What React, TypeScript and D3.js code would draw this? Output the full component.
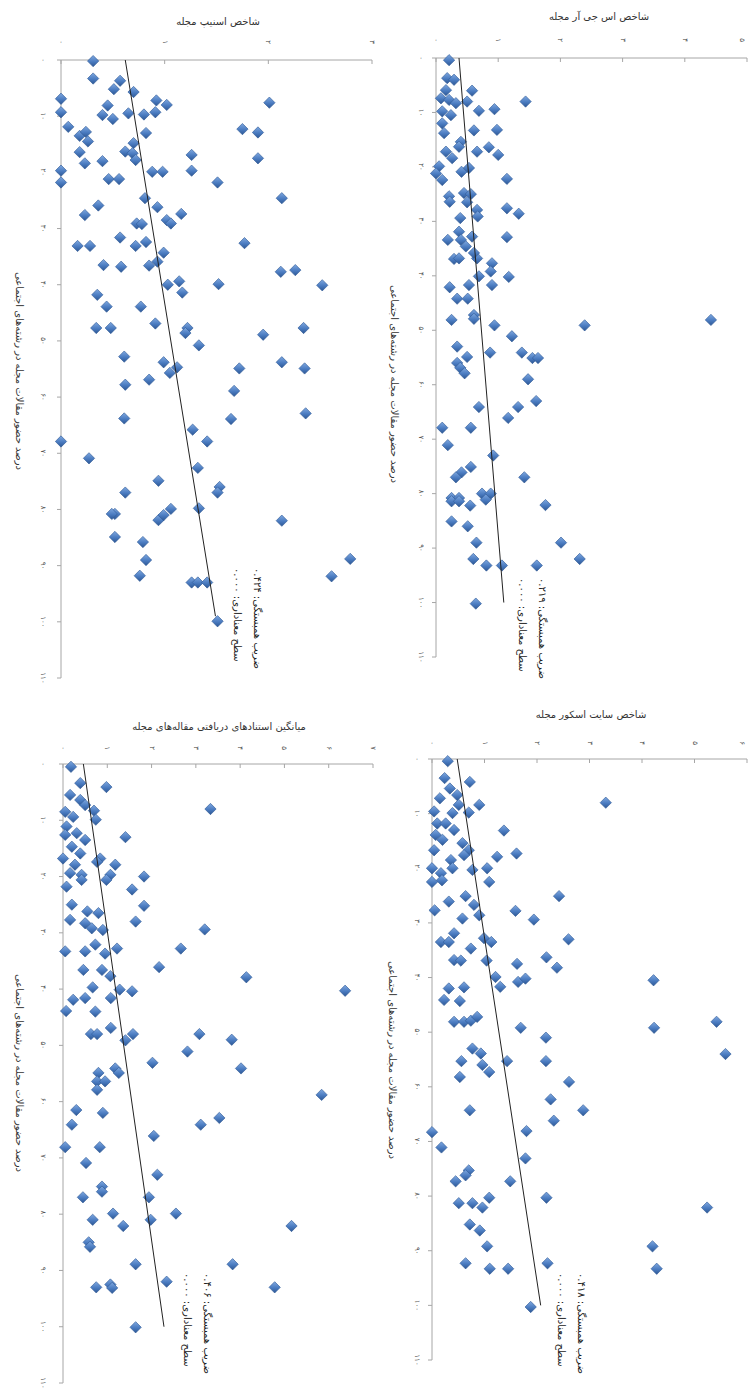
import React from 'react';
import * as d3 from 'd3';

type Pt = [number, number];

// [percent of journal papers in social fields, index value]
const snipPoints: Pt[] = [
  [0.2, 0.31], [3.3, 0.31], [3.7, 0.57], [5.2, 0.51], [5.7, 0.7], [6.9, 0], [8.1, 0.45], [7.2, 0.92],
  [8.0, 1.02], [7.6, 2.01], [9.3, 0], [9.8, 0.4], [10.5, 0.5], [9.5, 0.65], [9.7, 0.8], [9.3, 0.91],
  [11.9, 0.07], [12.3, 1.75], [12.9, 1.9], [13.5, 0.18], [12.8, 0.24], [14.5, 0.26], [13.0, 0.82],
  [14.8, 0.7], [16.4, 0.18], [16.3, 0.62], [16.6, 0.69], [17.8, 0.72], [16.9, 1.26], [17.5, 1.9],
  [18.4, 0.23], [18.0, 0.4], [19.7, 0], [21.8, 0], [19.9, 0.88], [19.9, 0.98], [19.7, 1.26],
  [21.2, 0.46], [21.2, 0.56], [21.8, 1.51], [24.6, 0.81], [24.6, 2.13], [27.6, 0.23], [25.9, 0.36],
  [26.2, 0.93], [27.4, 1.16], [29.1, 0.73], [29.2, 0.78], [28.5, 1.02], [29.1, 1.06], [33.1, 0.16],
  [33.1, 0.28], [31.6, 0.57], [33.1, 0.72], [32.4, 0.82], [34.3, 0.99], [32.6, 1.77], [36.5, 0.41],
  [36.8, 0.58], [36.6, 0.85], [35.9, 0.93], [37.7, 2.12], [37.4, 2.26], [40.0, 1.03], [39.4, 1.14],
  [41.4, 1.17], [39.9, 1.52], [40.1, 2.52], [41.8, 0.35], [43.9, 0.44], [43.9, 0.77], [47.7, 0.34],
  [47.7, 0.48], [46.9, 0.91], [47.7, 1.22], [48.6, 1.2], [50.8, 1.33], [48.9, 1.95], [47.7, 2.34],
  [52.8, 0.61], [53.8, 0.99], [54.7, 1.12], [55.7, 1.05], [54.9, 1.72], [53.8, 2.13], [54.9, 2.35],
  [56.9, 0.85], [57.8, 0.62], [58.9, 1.67], [63.8, 0.61], [63.9, 1.64], [62.9, 2.36], [67.9, 0],
  [65.8, 1.27], [67.9, 1.41], [70.9, 0.27], [72.6, 1.32], [74.9, 0.94], [77.0, 0.62], [76.0, 1.53],
  [77.0, 1.51], [80.8, 0.52], [80.8, 0.49], [81.9, 0.94], [81.0, 0.99], [79.9, 1.06], [79.8, 1.33],
  [82.0, 2.13], [84.9, 0.52], [85.8, 0.79], [89.0, 0.82], [91.8, 0.76], [93.0, 1.26], [93.0, 1.32],
  [93.0, 1.41], [99.9, 1.51], [88.8, 2.79], [91.9, 2.61],
];

const sjrPoints: Pt[] = [
  [0.4, 0.21], [3.7, 0.18], [4.0, 0.29], [5.9, 0.16], [6.0, 0.58], [8.0, 1.44], [7.4, 0.08], [7.7, 0.21],
  [8.3, 0.32], [8.0, 0.5], [9.7, 0.69], [9.4, 0.94], [9.8, 0.1], [10.5, 0.24], [12.0, 0.1], [13.3, 0.61],
  [13.2, 0.98], [13.8, 0.13], [15.4, 0.4], [16.3, 0.37], [17.2, 0.66], [16.4, 0.85], [17.8, 1.0],
  [17.2, 0.16], [18.4, 0.26], [19.9, 0.05], [21.2, 0], [22.4, 0.1], [20.9, 0.41], [20.2, 0.53],
  [22.2, 1.14], [25.4, 0.21], [24.8, 0.45], [25.0, 0.56], [26.4, 0.22], [26.5, 0.5], [27.6, 1.14],
  [28.6, 1.33], [29.4, 0.39], [27.9, 0.66], [29.1, 0.67], [33.4, 0.19], [31.9, 0.37], [33.4, 0.4],
  [32.8, 0.58], [32.9, 1.14], [34.6, 0.48], [36.9, 0.29], [36.8, 0.37], [36.8, 0.66], [35.8, 0.61],
  [37.7, 0.9], [39.2, 0.88], [41.7, 0.9], [40.2, 1.17], [40.1, 0.69], [41.7, 0.53], [42.1, 0.22],
  [44.2, 0.34], [44.2, 0.51], [47.2, 0.61], [47.9, 0.61], [48.1, 0.25], [49.1, 0.94], [49.1, 2.39],
  [48.1, 4.42], [51.1, 1.22], [53.0, 0.34], [54.9, 0.5], [54.1, 0.87], [54.1, 1.38], [55.1, 1.55],
  [55.1, 1.64], [56.0, 0.34], [56.9, 0.39], [57.9, 0.46], [59.0, 1.48], [63.0, 1.61], [64.1, 1.32],
  [64.1, 0.69], [66.1, 1.16], [67.9, 0.1], [67.9, 0.56], [71.1, 0.19], [73.0, 0.92], [75.1, 0.56],
  [76.1, 0.41], [77.0, 0.32], [77.0, 1.42], [80.8, 0.25], [80.8, 0.37], [80.0, 0.74], [80.0, 0.88],
  [81.4, 0.25], [81.4, 0.37], [82.2, 0.55], [81.1, 0.8], [82.1, 1.76], [85.1, 0.25], [86.0, 0.51],
  [89.0, 0.65], [89.0, 2.01], [92.0, 0.6], [93.2, 0.81], [93.2, 1.06], [93.2, 1.62], [92.0, 2.31],
  [100.2, 0.64],
];

const citesPoints: Pt[] = [
  [0.5, 0.18], [3.4, 0.39], [4.1, 0.98], [5.5, 0.16], [6.4, 0.39], [7.3, 0.5], [8.3, 0.7], [8.0, 3.33],
  [8.5, 0.05], [9.4, 0.23], [9.9, 0.74], [11.1, 0.08], [12.3, 0.31], [13.5, 0.5], [13.0, 1.41],
  [12.6, 0.05], [14.7, 0.2], [16.8, 0], [15.9, 0.39], [16.8, 0.84], [17.4, 0.77], [17.9, 1.18],
  [17.9, 0.27], [19.7, 1.07], [20.0, 1.83], [19.4, 0.16], [19.7, 0.42], [21.8, 0.08], [20.6, 0.42],
  [20.6, 0.98], [22.3, 1.56], [25.0, 0.2], [26.2, 0.55], [26.5, 0.8], [25.2, 1.83], [27.7, 0.16],
  [28.3, 0.5], [29.2, 0.65], [29.5, 0.9], [28.0, 1.64], [29.4, 3.2], [33.3, 0.05], [33.3, 0.5],
  [32.1, 0.73], [33.7, 0.95], [32.8, 1.22], [32.8, 2.66], [36.6, 0.46], [36.6, 0.88], [37.7, 1.07],
  [36.1, 2.17], [37.9, 4.14], [39.7, 0.67], [40.1, 1.28], [40.4, 1.56], [40.3, 6.37], [41.9, 0.23],
  [41.6, 0.5], [41.6, 1.08], [43.9, 0.07], [44.0, 0.73], [48.0, 0.63], [48.0, 0.77], [46.9, 1.08],
  [49.1, 1.41], [48.0, 1.58], [48.0, 3.08], [49.0, 3.81], [51.1, 2.81], [53.1, 2.02], [54.1, 4.02],
  [54.9, 0.8], [54.1, 1.18], [54.9, 1.26], [56.4, 0.77], [56.4, 0.95], [57.9, 0.77], [58.8, 5.84],
  [61.5, 0.3], [62.0, 0.9], [64.1, 0.2], [64.1, 3.11], [62.9, 3.53], [66.1, 2.05], [68.1, 0.05],
  [68.1, 0.83], [70.9, 0.52], [73.0, 2.13], [75.1, 0.88], [76.0, 0.88], [77.0, 0.45], [77.0, 1.94],
  [79.9, 1.13], [81.0, 0.67], [82.1, 1.36], [81.0, 1.98], [79.9, 2.55], [82.1, 5.16], [85.0, 0.58],
  [85.8, 0.61], [88.9, 1.64], [88.9, 3.83], [93.0, 0.75], [92.5, 1.07], [93.1, 1.11], [92.0, 2.34],
  [93.0, 4.78], [100.1, 1.64],
];

const citeScorePoints: Pt[] = [
  [0.4, 0.3], [3.5, 0.24], [4.2, 0.72], [5.4, 0.34], [7.2, 0.15], [6.6, 0.48], [8.4, 0.51], [8.4, 0.9],
  [8.0, 3.31], [9.6, 0.04], [9.9, 0.39], [9.8, 0.7], [11.8, 0.1], [11.8, 0.26], [13.0, 0.42], [13.1, 1.37],
  [13.9, 0.07], [14.8, 0.2], [15.4, 0.58], [16.7, 0.7], [16.7, 0.04], [18.5, 0.36], [17.6, 0.61],
  [17.9, 1.24], [17.3, 1.61], [20.0, 0], [20.9, 0.17], [20.0, 0.39], [20.3, 0.77], [20.0, 1.05],
  [22.5, 0], [22.2, 0.19], [22.5, 1.09], [27.7, 0.05], [26.1, 0.32], [25.1, 0.64], [26.7, 0.8],
  [25.1, 2.42], [29.2, 0.58], [28.6, 0.9], [27.8, 1.59], [29.4, 1.94], [33.5, 0.17], [33.5, 0.32],
  [31.9, 0.42], [34.7, 0.74], [32.8, 0.99], [33.5, 1.13], [33.0, 2.6], [36.8, 0.42], [36.9, 0.55],
  [36.9, 1.04], [37.5, 1.62], [36.3, 2.18], [38.2, 2.38], [39.9, 1.21], [40.8, 1.64], [40.2, 1.78],
  [41.7, 1.3], [40.5, 4.22], [42.0, 0.32], [41.8, 0.61], [44.1, 0.23], [44.3, 0.53], [48.1, 0.42],
  [48.1, 0.61], [47.9, 0.74], [47.2, 0.86], [49.2, 1.69], [51.0, 2.17], [49.2, 4.23], [48.1, 5.42],
  [53.0, 0.77], [53.9, 0.93], [55.3, 0.56], [56.0, 0.96], [57.3, 1.09], [55.3, 1.43], [55.3, 2.17],
  [54.0, 5.59], [58.2, 0.53], [59.1, 2.61], [62.3, 2.26], [64.3, 0.72], [66.2, 2.32], [64.3, 2.88],
  [68.3, 0], [71.1, 0.18], [68.1, 1.8], [73.1, 1.78], [75.3, 0.7], [76.2, 0.64], [77.3, 0.45],
  [77.3, 1.49], [81.3, 0.51], [81.3, 0.77], [80.3, 1.09], [82.1, 0.96], [80.3, 2.18], [82.1, 5.24],
  [85.2, 0.72], [86.3, 0.91], [89.2, 1.05], [89.2, 4.2], [92.3, 0.64], [93.3, 1.1], [93.3, 1.45],
  [92.3, 2.2], [93.3, 4.28], [100.3, 1.88],
];

// linear trend lines: [percent, value] at both ends
const snipTrend: Pt[] = [[0, 0.62], [99, 1.49]];
const sjrTrend: Pt[] = [[0, 0.37], [100, 1.09]];
const citesTrend: Pt[] = [[0, 0.46], [100, 2.28]];
const citeScoreTrend: Pt[] = [[0, 0.48], [100, 2.07]];

const snipTicks = [0, 1, 2, 3];
const sjrTicks = [0, 1, 2, 3, 4, 5];
const citesTicks = [0, 1, 2, 3, 4, 5, 6, 7];
const citeScoreTicks = [0, 1, 2, 3, 4, 5, 6];
const percentTicks = [0, 10, 20, 30, 40, 50, 60, 70, 80, 90, 100, 110];

const correlations = [0.424, 0.219, 0.406, 0.418];
const significances = [0, 0, 0, 0];

const titles = [
  'شاخص اسنیپ مجله',
  'شاخص اس جی آر مجله',
  'میانگین استنادهای دریافتی مقاله‌های مجله',
  'شاخص سایت اسکور مجله',
];
const percentLabel = 'درصد حضور مقالات مجله در رشته‌های اجتماعی';
const corrLabel = 'ضریب همبستگی';
const sigLabel = 'سطح معناداری';

const FONT = '"DejaVu Sans", "Noto Sans", sans-serif';
const fa = (s: string) => s.replace(/\d/g, (d) => '۰۱۲۳۴۵۶۷۸۹'[+d]);

interface Layout {
  x0: number; x1: number; y0: number; y1: number;
  titleX: number; titleY: number;
  valueLabelY: number; pctLabelX: number;
  axisTitleX: number; axisTitleY: number;
  legendX: number; legendY: number;
}

const panels = [
  { data: snipPoints, trend: snipTrend, ticks: snipTicks, title: titles[0], r: correlations[0], sig: significances[0],
    layout: { x0: 61, x1: 372, y0: 60, y1: 678, titleX: 218, titleY: 25, valueLabelY: 42, pctLabelX: 43,
      axisTitleX: 19, axisTitleY: 371, legendX: 257, legendY: 568 } as Layout },
  { data: sjrPoints, trend: sjrTrend, ticks: sjrTicks, title: titles[1], r: correlations[1], sig: significances[1],
    layout: { x0: 436, x1: 747, y0: 58, y1: 657, titleX: 599, titleY: 20, valueLabelY: 40, pctLabelX: 421,
      axisTitleX: 394, axisTitleY: 384, legendX: 542, legendY: 578 } as Layout },
  { data: citesPoints, trend: citesTrend, ticks: citesTicks, title: titles[2], r: correlations[2], sig: significances[2],
    layout: { x0: 63, x1: 373, y0: 764, y1: 1383, titleX: 219, titleY: 730, valueLabelY: 748, pctLabelX: 43,
      axisTitleX: 19, axisTitleY: 1073, legendX: 207, legendY: 1273 } as Layout },
  { data: citeScorePoints, trend: citeScoreTrend, ticks: citeScoreTicks, title: titles[3], r: correlations[3], sig: significances[3],
    layout: { x0: 432, x1: 747, y0: 759, y1: 1360, titleX: 591, titleY: 718, valueLabelY: 743, pctLabelX: 417,
      axisTitleX: 392, axisTitleY: 1060, legendX: 581, legendY: 1273 } as Layout },
];

const diamond = d3.symbol().type(d3.symbolSquare).size(64)() as string;

function Panel({ p }: { p: (typeof panels)[number] }) {
  const L = p.layout;
  const x = d3.scaleLinear().domain([0, p.ticks[p.ticks.length - 1]]).range([L.x0, L.x1]);
  const y = d3.scaleLinear().domain([0, 110]).range([L.y0, L.y1]);
  const line = d3.line<Pt>().x((d) => x(d[1])).y((d) => y(d[0]));
  return (
    <g>
      <text x={L.titleX} y={L.titleY} textAnchor="middle" fontSize={10} fill="#333" direction="rtl"
        fontFamily={FONT}>{p.title}</text>
      {/* value axis along the top */}
      <line x1={L.x0} x2={L.x1} y1={L.y0} y2={L.y0} stroke="#a6a6a6" strokeWidth={1} />
      {p.ticks.map((t) => (
        <g key={'v' + t}>
          <line x1={x(t)} x2={x(t)} y1={L.y0} y2={L.y0 + 4} stroke="#a6a6a6" />
          <text transform={`translate(${Math.min(x(t), 742)},${L.valueLabelY}) rotate(90)`} textAnchor="middle"
            dominantBaseline="central" fontSize={7} fill="#555" fontFamily={FONT}>{fa(String(t))}</text>
        </g>
      ))}
      {/* percent axis down the left */}
      <line x1={L.x0} x2={L.x0} y1={L.y0} y2={L.y1} stroke="#a6a6a6" strokeWidth={1} />
      {percentTicks.map((t) => (
        <g key={'p' + t}>
          <line x1={L.x0 - 4} x2={L.x0} y1={y(t)} y2={y(t)} stroke="#a6a6a6" />
          <text transform={`translate(${L.pctLabelX},${y(t)}) rotate(90)`} textAnchor="middle"
            dominantBaseline="central" fontSize={7} fill="#555" fontFamily={FONT}>{fa(String(t))}</text>
        </g>
      ))}
      <text transform={`translate(${L.axisTitleX},${L.axisTitleY}) rotate(90)`} textAnchor="middle"
        dominantBaseline="central" fontSize={10} fill="#333" direction="rtl" fontFamily={FONT}>{percentLabel}</text>
      {p.data.map((d, i) => (
        <path key={i} d={diamond} transform={`translate(${x(d[1])},${y(d[0])}) rotate(45)`}
          fill="url(#mk)" stroke="#2f5a96" strokeWidth={0.6} />
      ))}
      <path d={line(p.trend) || ''} fill="none" stroke="#222" strokeWidth={1} />
      <g transform={`translate(${L.legendX},${L.legendY}) rotate(90)`} fontFamily={FONT} fontSize={10} fill="#222">
        <text x={0} y={0} textAnchor="end" direction="rtl" dominantBaseline="central">
          {`${corrLabel}: ${fa(d3.format('.3f')(p.r))}`}
        </text>
        <text x={0} y={20} textAnchor="end" direction="rtl" dominantBaseline="central">
          {`${sigLabel}: ${fa(d3.format('.3f')(p.sig))}`}
        </text>
      </g>
    </g>
  );
}

export default function App() {
  return (
    <svg width={748} height={1393} style={{ position: 'absolute', left: 0, top: 0, background: '#fff' }}>
      <defs>
        <linearGradient id="mk" x1="0" y1="0" x2="1" y2="1">
          <stop offset="0%" stopColor="#7fa8e0" />
          <stop offset="55%" stopColor="#4a7bc0" />
          <stop offset="100%" stopColor="#2d5794" />
        </linearGradient>
      </defs>
      <rect width={748} height={1393} fill="#fff" />
      {panels.map((p, i) => (
        <Panel key={i} p={p} />
      ))}
    </svg>
  );
}
